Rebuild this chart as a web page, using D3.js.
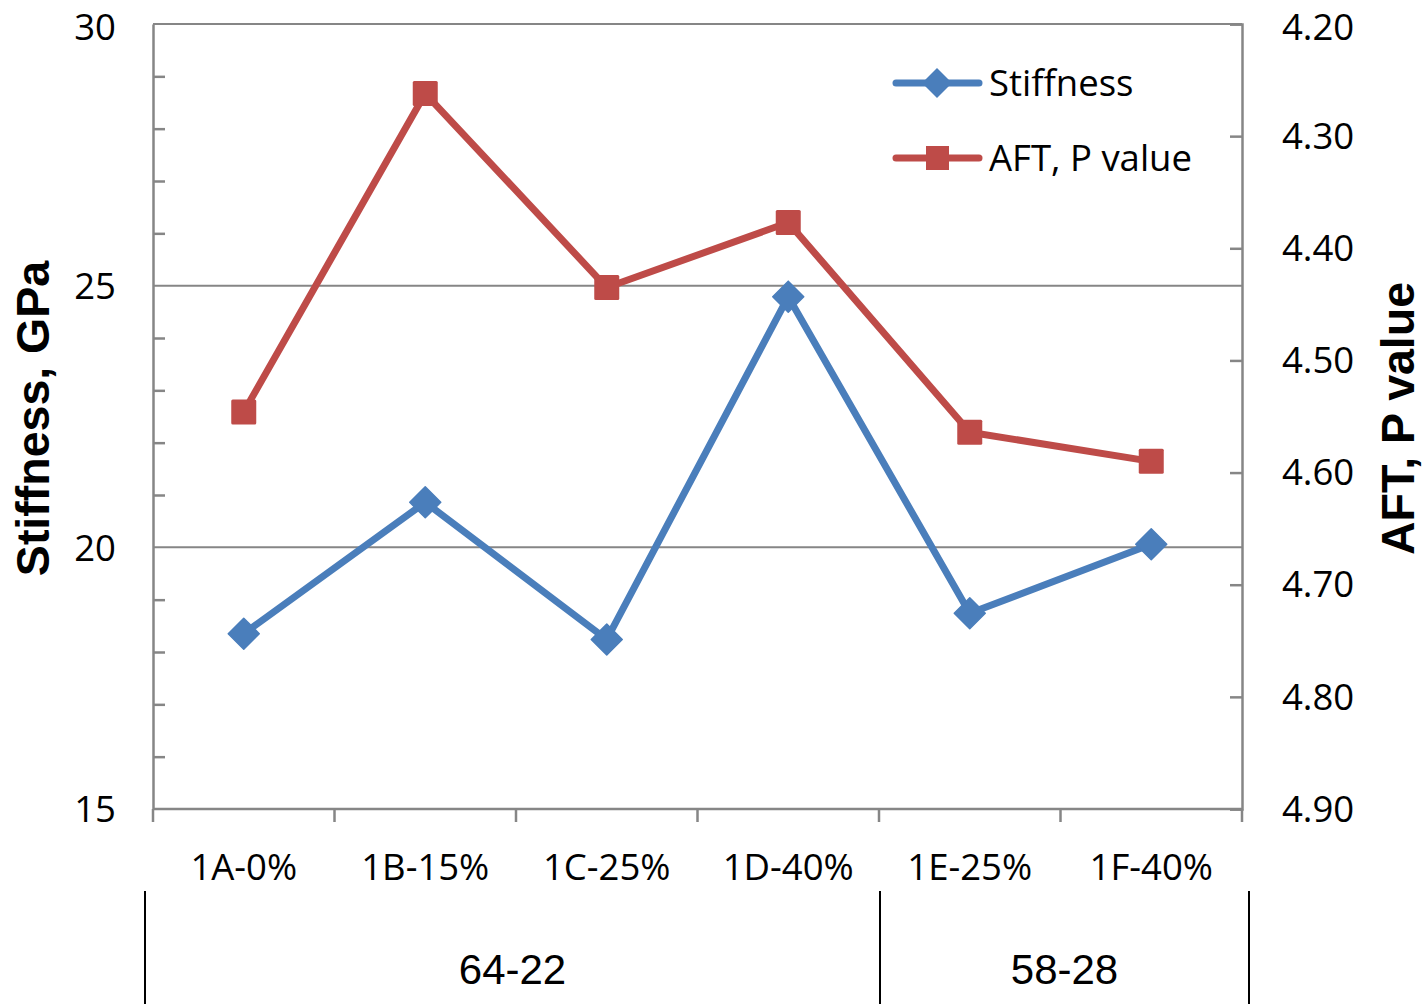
<!DOCTYPE html>
<html>
<head>
<meta charset="utf-8">
<script src="https://cdn.jsdelivr.net/npm/d3@7"></script>
<style>
  html, body { margin: 0; padding: 0; background: #fff; }
  svg { display: block; }
</style>
</head>
<body>
<svg id="chart" width="1426" height="1004"></svg>
<script>
const categories = ["1A-0%", "1B-15%", "1C-25%", "1D-40%", "1E-25%", "1F-40%"];
const stiffness = [18.35, 20.86, 18.24, 24.79, 18.74, 20.06];
const aftP = [4.546, 4.262, 4.435, 4.377, 4.564, 4.590];
const leftTicks = [15, 20, 25, 30];
const leftMinorTicks = [16, 17, 18, 19, 21, 22, 23, 24, 26, 27, 28, 29];
const rightTicks = [4.20, 4.30, 4.40, 4.50, 4.60, 4.70, 4.80, 4.90];
const groups = [
  { label: "64-22", from: 0, to: 3 },
  { label: "58-28", from: 4, to: 5 }
];
const seriesNames = ["Stiffness", "AFT, P value"];

const W = 1426, H = 1004;
const m = { left: 153, right: 1242, top: 24, bottom: 809 };
const svg = d3.select("#chart");
const gray = "#868686";
const blue = "#4A7EBB";
const red = "#BE4B48";
const labelFont = "'Open Sans', sans-serif";
const labelSize = 36.5;

const x = d3.scaleBand().domain(categories).range([m.left, m.right]).padding(0);
const yL = d3.scaleLinear().domain([15, 30]).range([m.bottom, m.top]);
const yR = d3.scaleLinear().domain([4.2, 4.9]).range([m.top, m.bottom]);

// gridlines
svg.append("g").selectAll("line").data(leftTicks.filter(d => d > 15)).join("line")
  .attr("x1", m.left).attr("x2", m.right)
  .attr("y1", d => yL(d)).attr("y2", d => yL(d))
  .attr("stroke", gray).attr("stroke-width", 2);

// left axis
const axL = d3.axisLeft(yL).tickValues(leftTicks).tickSize(0).tickPadding(37)
  .tickFormat(d3.format("d"));
const gL = svg.append("g").attr("transform", `translate(${m.left},0)`).call(axL);
gL.select(".domain").attr("stroke", gray).attr("stroke-width", 2.5);
gL.selectAll("text").attr("font-family", labelFont).attr("font-size", labelSize).attr("fill", "#000")
  .attr("dy", d => d === 30 ? "0.43em" : "0.35em");
// minor ticks inward
const axLm = d3.axisRight(yL).tickValues(leftMinorTicks).tickSize(12).tickFormat("");
const gLm = svg.append("g").attr("transform", `translate(${m.left},0)`).call(axLm);
gLm.select(".domain").remove();
gLm.selectAll("line").attr("stroke", gray).attr("stroke-width", 2.5);

// right axis
const axR = d3.axisLeft(yR).tickValues(rightTicks).tickSize(12).tickFormat("");
const gR = svg.append("g").attr("transform", `translate(${m.right},0)`).call(axR);
gR.select(".domain").attr("stroke", gray).attr("stroke-width", 2.5);
gR.selectAll("line").attr("stroke", gray).attr("stroke-width", 2.5);
svg.append("g").selectAll("text").data(rightTicks).join("text")
  .attr("x", m.right + 40).attr("y", d => yR(d))
  .attr("dy", d => d === 4.2 ? "0.43em" : "0.35em")
  .attr("font-family", labelFont).attr("font-size", labelSize).attr("fill", "#000")
  .text(d => d.toFixed(2));

// bottom axis
const boundaries = categories.map(c => x(c)).concat([m.right]);
svg.append("line").attr("x1", m.left).attr("x2", m.right)
  .attr("y1", m.bottom).attr("y2", m.bottom).attr("stroke", gray).attr("stroke-width", 2.5);
svg.append("g").selectAll("line").data(boundaries).join("line")
  .attr("x1", d => d).attr("x2", d => d)
  .attr("y1", m.bottom).attr("y2", m.bottom + 13)
  .attr("stroke", gray).attr("stroke-width", 2.5);
svg.append("g").selectAll("text").data(categories).join("text")
  .attr("x", d => x(d) + x.bandwidth() / 2).attr("y", 880)
  .attr("text-anchor", "middle")
  .attr("font-family", labelFont).attr("font-size", labelSize).attr("fill", "#000")
  .text(d => d);

// group separators and labels
const sepX = [m.left - 8, x(categories[4]) + 1, m.right + 7];
svg.append("g").selectAll("line").data(sepX).join("line")
  .attr("x1", d => d).attr("x2", d => d).attr("y1", 891).attr("y2", H)
  .attr("stroke", "#000").attr("stroke-width", 2);
svg.append("g").selectAll("text").data(groups).join("text")
  .attr("x", (d, i) => (sepX[i] + sepX[i + 1]) / 2).attr("y", 984)
  .attr("text-anchor", "middle")
  .attr("font-family", "'Liberation Sans', Arial, sans-serif").attr("font-size", 42).attr("fill", "#000")
  .text(d => d.label);

// axis titles
svg.append("text").attr("transform", `translate(49,${(m.top + m.bottom) / 2 + 2}) rotate(-90)`)
  .attr("text-anchor", "middle").attr("font-family", "'Liberation Sans', Arial, sans-serif")
  .attr("font-weight", "bold").attr("font-size", 46.5).text("Stiffness, GPa");
svg.append("text").attr("transform", `translate(1414,${(m.top + m.bottom) / 2 + 2}) rotate(-90)`)
  .attr("text-anchor", "middle").attr("font-family", "'Liberation Sans', Arial, sans-serif")
  .attr("font-weight", "bold").attr("font-size", 46.5).text("AFT, P value");

// series
const cx = c => x(c) + x.bandwidth() / 2;
const lineL = d3.line().x((d, i) => cx(categories[i])).y(d => yL(d));
const lineR = d3.line().x((d, i) => cx(categories[i])).y(d => yR(d));

svg.append("path").datum(aftP).attr("d", lineR).attr("fill", "none")
  .attr("stroke", red).attr("stroke-width", 7).attr("stroke-linejoin", "round");
svg.append("g").selectAll("rect").data(aftP).join("rect")
  .attr("x", (d, i) => cx(categories[i]) - 12.5).attr("y", d => yR(d) - 12.5)
  .attr("width", 25).attr("height", 25).attr("rx", 1.5)
  .attr("fill", red);

svg.append("path").datum(stiffness).attr("d", lineL).attr("fill", "none")
  .attr("stroke", blue).attr("stroke-width", 7).attr("stroke-linejoin", "round");
const diamond = (cxp, cyp, r) => `M${cxp},${cyp - r}L${cxp + r},${cyp}L${cxp},${cyp + r}L${cxp - r},${cyp}Z`;
svg.append("g").selectAll("path").data(stiffness).join("path")
  .attr("d", (d, i) => diamond(cx(categories[i]), yL(d), 15.5))
  .attr("fill", blue).attr("stroke", blue).attr("stroke-width", 1.5).attr("stroke-linejoin", "round");

// legend
const legY = [83, 158];
const lg = svg.append("g");
lg.append("line").attr("x1", 896).attr("x2", 979).attr("y1", legY[0]).attr("y2", legY[0])
  .attr("stroke", blue).attr("stroke-width", 7).attr("stroke-linecap", "round");
lg.append("path").attr("d", diamond(937, legY[0], 15)).attr("fill", blue);
lg.append("line").attr("x1", 896).attr("x2", 979).attr("y1", legY[1]).attr("y2", legY[1])
  .attr("stroke", red).attr("stroke-width", 7).attr("stroke-linecap", "round");
lg.append("rect").attr("x", 926).attr("y", legY[1] - 12).attr("width", 23).attr("height", 24).attr("fill", red);
lg.selectAll("text").data(seriesNames).join("text")
  .attr("x", 989).attr("y", (d, i) => legY[i]).attr("dy", "0.36em")
  .attr("font-family", labelFont).attr("font-size", labelSize).attr("fill", "#000")
  .text(d => d);
</script>
</body>
</html>
